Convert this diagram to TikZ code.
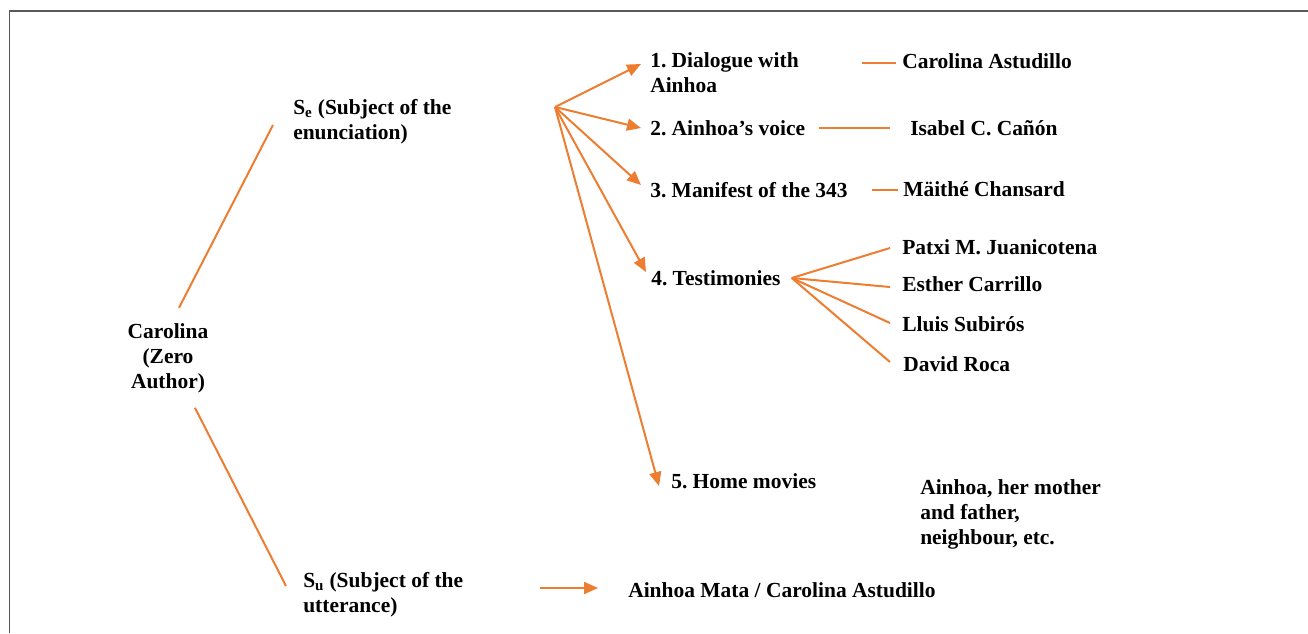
\documentclass[tikz,border=0pt]{standalone}
\usepackage{fontspec}
\setmainfont{Liberation Serif}
\usepackage{xcolor}
\definecolor{accorange}{HTML}{ED7D31}
\definecolor{framegray}{HTML}{595959}
\usetikzlibrary{positioning,calc,arrows.meta}

\begin{document}
\begin{tikzpicture}[x=0.75pt, y=-0.75pt,
		font=\bfseries\fontsize{16.1}{18.4}\selectfont\frenchspacing,
		txt/.style={inner sep=0pt, anchor=base west, align=left},
		link/.style={draw=accorange, line width=1.5pt},
		arr/.style={link, -{Triangle[length=10.5pt, width=9pt]}, fill=accorange}]
			\useasboundingbox (0,0) rectangle (1308,633);
			\draw [framegray, line width=1.1pt] (9.5,633) -- (9.5,11) -- (1308,11);
			% left column (multi-line nodes sit on their last line)
			\node [txt, anchor=base, align=center] (zero) at (168,388) {Carolina\\(Zero\\Author)};
			\node [txt] (se) at (293,139) {S\textsubscript{e} (Subject of the\\enunciation)};
			\node [txt] (su) at (303,612) {S\textsubscript{u} (Subject of the\\utterance)};
			% the five sources
			\node [txt] (d1) at (650,92) {1. Dialogue with\\Ainhoa};
			\node [txt] (d2) at (650,135) {2. Ainhoa’s voice};
			\node [txt] (d3) at (650,197) {3. Manifest of the 343};
			\node [txt] (d4) at (651,285) {4. Testimonies};
			\node [txt] (d5) at (671,488) {5. Home movies};
			% voices
			\node [txt] (ca) at (902,68) {Carolina Astudillo};
			\node [txt] (ic) at (910,135) {Isabel C. Cañón};
			\node [txt] (mc) at (903,196) {Mäithé Chansard};
			\node [txt] (pj) at (902,254) {Patxi M. Juanicotena};
			\node [txt] (ec) at (902,291) {Esther Carrillo};
			\node [txt] (ls) at (902,331) {Lluis Subirós};
			\node [txt] (dr) at (903,371) {David Roca};
			\node [txt] (fam) at (920,544) {Ainhoa, her mother\\and father,\\neighbour, etc.};
			\node [txt] (am) at (628,597) {Ainhoa Mata / Carolina Astudillo};
			% hubs
			\coordinate (hub) at (555,107);
			\coordinate (thub) at ($(d4.base east)+(11,-7)$);
			% connectors
			\draw [link] ($(zero.north)+(11,-16)$) -- ($(se.base west)+(-20,-14)$);
			\draw [link] ($(zero.south)+(27,15)$) -- ($(su.base west)+(-17,-26)$);
			\draw [arr] (hub) -- ($(d1.base west)+(-9,-28)$);
			\draw [arr] (hub) -- ($(d2.base west)+(-9,-7)$);
			\draw [arr] (hub) -- ($(d3.base west)+(-9,-12)$);
			\draw [arr] (hub) -- ($(d4.base west)+(-5,-13)$);
			\draw [arr] (hub) -- ($(d5.base west)+(-12,-2)$);
			\draw [link] ($(ca.base west)+(-40,-5)$) -- ($(ca.base west)+(-6,-5)$);
			\draw [link] ($(d2.base east)+(14,-7)$) -- ($(ic.base west)+(-20,-7)$);
			\draw [link] ($(d3.base east)+(24,-7)$) -- ($(mc.base west)+(-5,-6)$);
			\draw [link] (thub) -- ($(pj.base west)+(-12,-6)$);
			\draw [link] (thub) -- ($(ec.base west)+(-12,-4)$);
			\draw [link] (thub) -- ($(ls.base west)+(-12,-8)$);
			\draw [link] (thub) -- ($(dr.base west)+(-13,-9)$);
			\draw [arr] ($(am.base west)+(-88,-9)$) -- ($(am.base west)+(-30,-9)$);
		\end{tikzpicture}
\end{document}
